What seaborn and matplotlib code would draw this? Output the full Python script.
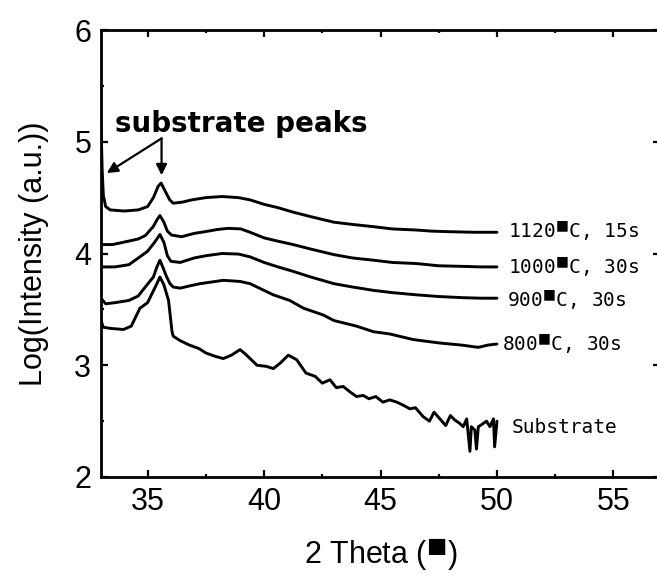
import numpy as np
import pandas as pd
import matplotlib
matplotlib.use("Agg")
import matplotlib.pyplot as plt
import seaborn as sns

# ---- data ----
x_1120 = [33.0, 33.05, 33.1, 33.2, 33.4, 34.0, 34.6, 35.0, 35.25, 35.45, 35.58, 35.75, 35.95, 36.1, 36.5,
          36.9, 37.5, 38.2, 38.9, 39.4, 40.0, 40.6, 41.25, 42.0, 43.0, 43.8, 44.7, 45.5, 46.55, 47.2, 48.0, 49.0, 50.0]
y_1120 = [5.15, 4.75, 4.52, 4.42, 4.39, 4.38, 4.39, 4.42, 4.50, 4.60, 4.63, 4.56, 4.48, 4.45, 4.46,
          4.48, 4.50, 4.51, 4.50, 4.48, 4.44, 4.41, 4.37, 4.33, 4.28, 4.26, 4.24, 4.22, 4.21, 4.20, 4.195, 4.19, 4.19]

x_1000 = [33.0, 33.5, 34.17, 34.6, 34.9, 35.24, 35.4, 35.53, 35.7, 35.85, 36.03, 36.46, 37.0, 37.46, 38.0, 38.46,
          39.0, 39.4, 40.0, 40.6, 41.25, 42.0, 43.0, 43.8, 44.7, 45.5, 46.55, 47.5, 48.5, 49.3, 50.0]
y_1000 = [4.08, 4.08, 4.11, 4.13, 4.16, 4.24, 4.30, 4.34, 4.28, 4.20, 4.165, 4.15, 4.18, 4.195, 4.215, 4.225,
          4.22, 4.19, 4.14, 4.11, 4.08, 4.04, 3.99, 3.96, 3.94, 3.92, 3.91, 3.89, 3.885, 3.88, 3.88]

x_900 = [33.0, 33.6, 34.2, 34.67, 35.0, 35.3, 35.53, 35.7, 35.85, 36.0, 36.4, 37.0, 37.5, 38.2, 38.9, 39.4,
         40.0, 40.6, 41.25, 42.0, 43.0, 43.8, 44.7, 45.5, 46.55, 47.5, 48.5, 49.3, 50.0]
y_900 = [3.88, 3.88, 3.90, 3.97, 4.02, 4.10, 4.17, 4.10, 3.98, 3.93, 3.92, 3.96, 3.98, 4.00, 3.995, 3.97,
         3.92, 3.88, 3.84, 3.79, 3.73, 3.70, 3.67, 3.65, 3.63, 3.615, 3.605, 3.60, 3.60]

x_800 = [33.0, 33.2, 33.6, 34.2, 34.6, 34.9, 35.25, 35.4, 35.53, 35.65, 35.8, 35.96, 36.1, 36.4, 36.8, 37.25,
         38.25, 38.97, 39.4, 39.7, 40.4, 41.1, 41.7, 42.54, 43.0, 43.97, 44.7, 45.4, 46.4, 47.5, 48.5, 49.2, 49.6, 50.0]
y_800 = [3.60, 3.55, 3.56, 3.58, 3.62, 3.70, 3.79, 3.88, 3.94, 3.88, 3.80, 3.73, 3.70, 3.69, 3.71, 3.73,
         3.76, 3.75, 3.73, 3.70, 3.63, 3.58, 3.51, 3.45, 3.40, 3.35, 3.30, 3.28, 3.23, 3.20, 3.18, 3.16, 3.18, 3.19]

x_sub = [33.0, 33.1, 33.4, 33.96, 34.3, 34.67, 35.0, 35.4, 35.53, 35.7, 35.9, 36.05, 36.1, 36.4, 36.8, 37.2,
         37.5, 37.9, 38.25, 38.6, 38.97, 39.2, 39.7, 40.1, 40.4, 40.7, 41.04, 41.4, 41.8, 42.2, 42.5, 42.83,
         43.1, 43.4, 43.7, 43.97, 44.26, 44.5, 44.8, 45.1, 45.4, 45.7, 46.0, 46.26, 46.5, 46.83, 47.1, 47.3,
         47.55, 47.8, 48.0, 48.19, 48.4, 48.55, 48.7, 48.84, 48.9, 49.05, 49.12, 49.2, 49.35, 49.55, 49.7,
         49.85, 49.9, 50.0]
y_sub = [3.40, 3.34, 3.33, 3.32, 3.35, 3.51, 3.56, 3.73, 3.79, 3.72, 3.58, 3.30, 3.26, 3.22, 3.18, 3.15,
         3.11, 3.08, 3.06, 3.09, 3.14, 3.10, 3.00, 2.99, 2.97, 3.02, 3.09, 3.05, 2.93, 2.90, 2.84, 2.87,
         2.80, 2.81, 2.76, 2.72, 2.73, 2.70, 2.72, 2.67, 2.69, 2.67, 2.64, 2.61, 2.62, 2.54, 2.50, 2.58,
         2.52, 2.46, 2.55, 2.51, 2.48, 2.45, 2.52, 2.23, 2.45, 2.42, 2.25, 2.45, 2.47, 2.50, 2.45,
         2.52, 2.27, 2.50]

series_names = ["1120", "1000", "900", "800", "Substrate"]
series_labels = [r"1120$^{\blacksquare}$C, 15s", r"1000$^{\blacksquare}$C, 30s",
                 r"900$^{\blacksquare}$C, 30s", r"800$^{\blacksquare}$C, 30s", "Substrate"]
label_x = [50.47, 50.47, 50.42, 50.21, 50.64]
label_y = [4.19, 3.87, 3.58, 3.18, 2.44]

x_ticks = [35, 40, 45, 50, 55]
y_ticks = [2, 3, 4, 5, 6]

# ---- build long-form table ----
frames = []
for name, xs, ys in zip(series_names, [x_1120, x_1000, x_900, x_800, x_sub],
                        [y_1120, y_1000, y_900, y_800, y_sub]):
    frames.append(pd.DataFrame({"theta": xs, "logI": ys, "sample": name}))
df = pd.concat(frames, ignore_index=True)

sns.set_theme(style="ticks")
plt.rcParams["font.family"] = ["Liberation Sans", "DejaVu Sans"]
for key in ["text.color", "axes.labelcolor", "xtick.color", "ytick.color", "axes.edgecolor"]:
    plt.rcParams[key] = "black"
plt.rcParams["xtick.direction"] = "in"
plt.rcParams["ytick.direction"] = "in"

fig = plt.figure(figsize=(6.57, 5.79), dpi=100)
ax = fig.add_axes([101 / 657, (579 - 477) / 579, (660 - 101) / 657, (477 - 30) / 579])

sns.lineplot(data=df, x="theta", y="logI", hue="sample",
             palette={n: "black" for n in series_names}, estimator=None, sort=False,
             legend=False, lw=2.1, ax=ax)

ax.set_xlim(33, 57)
ax.set_ylim(2, 6)
ax.set_xticks(x_ticks)
ax.set_yticks(y_ticks)
ax.set_xticks([37.5, 42.5, 47.5, 52.5], minor=True)
ax.set_yticks([2.5, 3.5, 4.5, 5.5], minor=True)
ax.tick_params(which="both", direction="in", top=True, right=True, color="black", labelcolor="black")
ax.tick_params(which="major", length=5, width=1.6, labelsize=22, pad=7)
ax.tick_params(which="minor", length=2.5, width=1.6)
for s in ax.spines.values():
    s.set_linewidth(2.0)
    s.set_color("black")

ax.set_xlabel(r"2 Theta ($^{\blacksquare}$)", fontsize=22, labelpad=14, color="black")
ax.set_ylabel("Log(Intensity (a.u.))", fontsize=22, labelpad=18, color="black")

for lab, lx, ly in zip(series_labels, label_x, label_y):
    ax.text(lx, ly, lab, fontsize=14, family=["DejaVu Sans Mono"], va="center", ha="left", color="black")

ax.text(33.6, 5.09, "substrate peaks", fontsize=20, fontweight="bold",
        family=["DejaVu Sans"], va="baseline", ha="left", color="black")
arrow_kw = dict(arrowstyle="-|>", lw=1.6, color="black", mutation_scale=16, shrinkA=0, shrinkB=0)
ax.annotate("", xy=(33.25, 4.72), xytext=(35.6, 5.03), arrowprops=arrow_kw)
ax.annotate("", xy=(35.6, 4.70), xytext=(35.6, 5.03), arrowprops=arrow_kw)

fig.savefig("out.png", dpi=100)
